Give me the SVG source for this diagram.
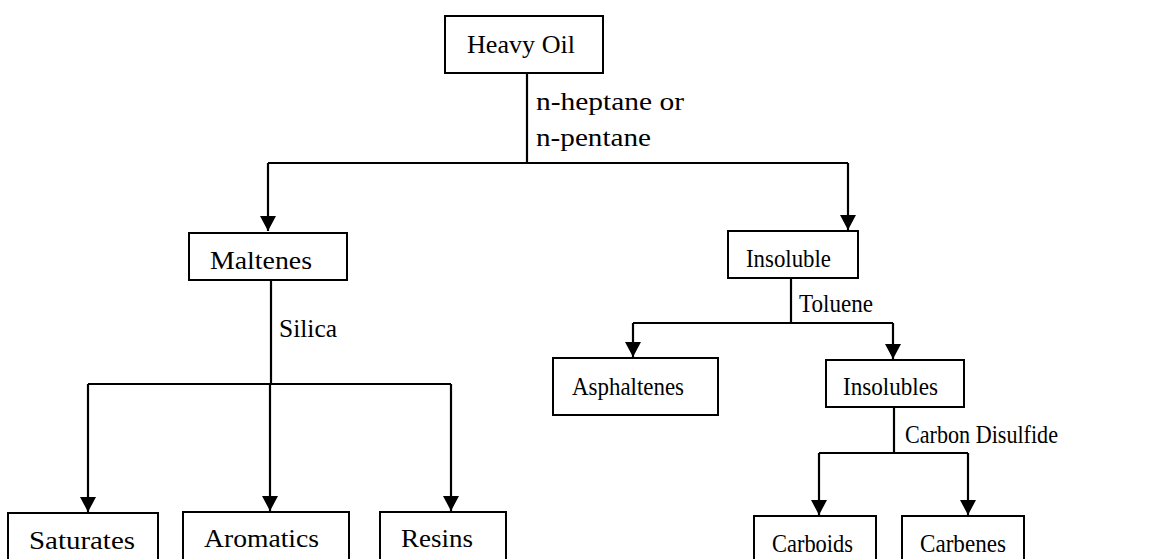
<svg xmlns="http://www.w3.org/2000/svg" width="1176" height="559" viewBox="0 0 1176 559">
<style>
.box{fill:#fff;stroke:#000;stroke-width:2}
.t{font-family:"Liberation Serif","Times New Roman",serif;font-size:26px;fill:#000}
.c{fill:none;stroke:#000;stroke-width:2.2}
</style>
<defs>
<marker id="ah" markerWidth="15" markerHeight="16" refX="15" refY="8" orient="auto" markerUnits="userSpaceOnUse" viewBox="0 0 15 16">
<path d="M0,0 L15,8 L0,16 Z" fill="#000"/>
</marker>
</defs>
<rect width="1176" height="559" fill="#fff"/>
<g id="connectors">
<path class="c" d="M527,73 V163"/>
<path class="c" d="M268,163 H848"/>
<path class="c" d="M268,163 V231" marker-end="url(#ah)"/>
<path class="c" d="M848,163 V230" marker-end="url(#ah)"/>
<path class="c" d="M271,280 V384"/>
<path class="c" d="M88,384 H451"/>
<path class="c" d="M88,384 V512" marker-end="url(#ah)"/>
<path class="c" d="M270,384 V511" marker-end="url(#ah)"/>
<path class="c" d="M451,384 V511" marker-end="url(#ah)"/>
<path class="c" d="M791,278 V323"/>
<path class="c" d="M633,323 H893"/>
<path class="c" d="M633,323 V357" marker-end="url(#ah)"/>
<path class="c" d="M893,323 V359" marker-end="url(#ah)"/>
<path class="c" d="M894,407 V453"/>
<path class="c" d="M819,453 H968"/>
<path class="c" d="M819,453 V515" marker-end="url(#ah)"/>
<path class="c" d="M968,453 V515" marker-end="url(#ah)"/>
<text class="t" x="536" y="110" textLength="148" lengthAdjust="spacingAndGlyphs">n-heptane or</text>
<text class="t" x="536" y="146" textLength="115" lengthAdjust="spacingAndGlyphs">n-pentane</text>
<text class="t" x="279" y="337" textLength="58" lengthAdjust="spacingAndGlyphs">Silica</text>
<text class="t" x="799" y="312" textLength="74" lengthAdjust="spacingAndGlyphs">Toluene</text>
<text class="t" x="905" y="443" textLength="153" lengthAdjust="spacingAndGlyphs">Carbon Disulfide</text>
</g>
<g id="heavy-oil"><rect class="box" x="445" y="16" width="158" height="57"/><text class="t" x="467" y="53" textLength="108" lengthAdjust="spacingAndGlyphs">Heavy Oil</text></g>
<g id="maltenes"><rect class="box" x="189" y="233" width="158" height="47"/><text class="t" x="210" y="269" textLength="102" lengthAdjust="spacingAndGlyphs">Maltenes</text></g>
<g id="insoluble"><rect class="box" x="728" y="231" width="130" height="47"/><text class="t" x="746" y="267" textLength="85" lengthAdjust="spacingAndGlyphs">Insoluble</text></g>
<g id="saturates"><rect class="box" x="8" y="513" width="150" height="60"/><text class="t" x="29" y="549" textLength="106" lengthAdjust="spacingAndGlyphs">Saturates</text></g>
<g id="aromatics"><rect class="box" x="183" y="512" width="166" height="60"/><text class="t" x="204" y="547" textLength="115" lengthAdjust="spacingAndGlyphs">Aromatics</text></g>
<g id="resins"><rect class="box" x="380" y="512" width="126" height="60"/><text class="t" x="401" y="547" textLength="72" lengthAdjust="spacingAndGlyphs">Resins</text></g>
<g id="asphaltenes"><rect class="box" x="553" y="358" width="165" height="57"/><text class="t" x="572" y="395" textLength="112" lengthAdjust="spacingAndGlyphs">Asphaltenes</text></g>
<g id="insolubles"><rect class="box" x="826" y="360" width="138" height="47"/><text class="t" x="843" y="395" textLength="95" lengthAdjust="spacingAndGlyphs">Insolubles</text></g>
<g id="carboids"><rect class="box" x="754" y="516" width="122" height="60"/><text class="t" x="772" y="552" textLength="81" lengthAdjust="spacingAndGlyphs">Carboids</text></g>
<g id="carbenes"><rect class="box" x="902" y="516" width="122" height="60"/><text class="t" x="920" y="552" textLength="86" lengthAdjust="spacingAndGlyphs">Carbenes</text></g>
</svg>
